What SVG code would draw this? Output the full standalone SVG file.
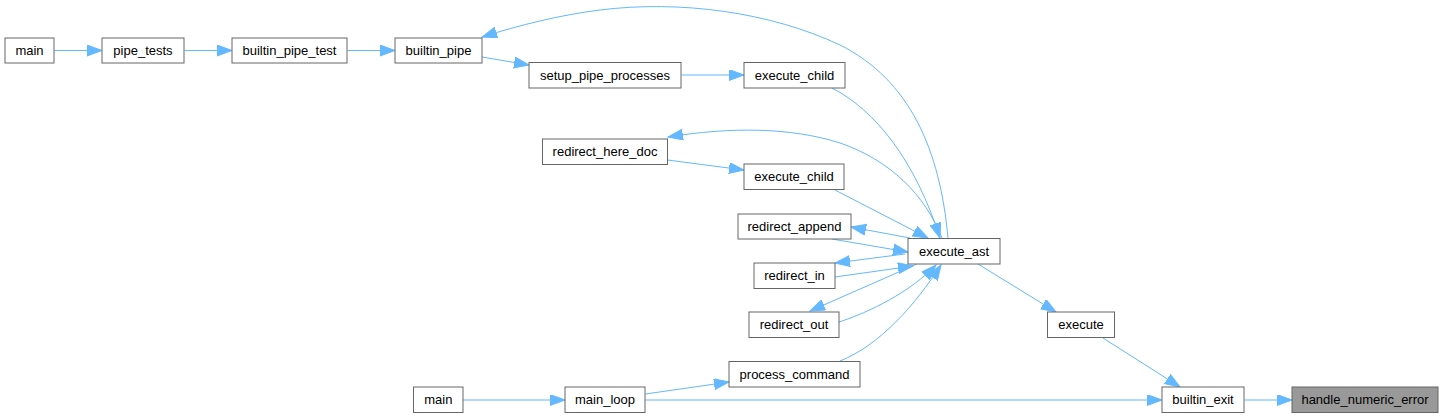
<svg xmlns="http://www.w3.org/2000/svg" width="1443" height="418" viewBox="0 0 1443 418">
<style>
.node rect{fill:#ffffff;stroke:#666666;stroke-width:1}
.node.hl rect{fill:#999999}
.node text{font-family:"Liberation Sans",Arial,sans-serif;font-size:13px;fill:#000000;text-anchor:middle}
.edges path{fill:none;stroke:#63b8ff;stroke-width:1;marker-end:url(#ah)}
</style>
<defs>
<marker id="ah" markerUnits="userSpaceOnUse" markerWidth="16" markerHeight="12" refX="15" refY="5.5" orient="auto" viewBox="0 0 16 12">
<path d="M0,0 L15,5.5 L0,11 Z" fill="#63b8ff" stroke="#63b8ff" stroke-width="1"/>
</marker>
</defs>
<rect width="1443" height="418" fill="#ffffff"/>
<g class="edges" id="edges">
<path d="M54.5,50.5 L102,50.5"/>
<path d="M184.5,50.5 L232,50.5"/>
<path d="M347.5,50.5 L395,50.5"/>
<path d="M482,57 L529,65"/>
<path d="M681.5,75 L744,75"/>
<path d="M948,238 C940,150 910,80 840,45 C770,12 680,0 600,10 C560,15 520,25 482,37"/>
<path d="M832,88 C875,110 915,160 940,238"/>
<path d="M942,238 C925,195 890,160 840,143 C790,127 730,127 668,137"/>
<path d="M667.5,160 L744,170"/>
<path d="M835,190 L928,238"/>
<path d="M910,238 L851,227"/>
<path d="M832,239 L908,252"/>
<path d="M905,254 L835,263"/>
<path d="M835,277 L913,266"/>
<path d="M917,264 L810,311"/>
<path d="M839,322 C870,312 910,292 936,265"/>
<path d="M840,361 C880,345 915,305 941,265"/>
<path d="M978,264 L1056,312"/>
<path d="M1103,338 L1180,387"/>
<path d="M1244.5,400 L1292,400"/>
<path d="M645.5,400 L1162,400"/>
<path d="M463,400 L565,400"/>
<path d="M645.5,394 L729,382"/>
</g>
<g class="node" id="n_main_top"><rect x="5" y="38" width="49" height="25"/><text x="29.5" y="55">main</text></g>
<g class="node" id="n_pipe_tests"><rect x="102" y="38" width="82" height="25"/><text x="143" y="55">pipe_tests</text></g>
<g class="node" id="n_builtin_pipe_test"><rect x="232" y="38" width="115" height="25"/><text x="289.5" y="55">builtin_pipe_test</text></g>
<g class="node" id="n_builtin_pipe"><rect x="395" y="38" width="87" height="25"/><text x="438.5" y="55">builtin_pipe</text></g>
<g class="node" id="n_setup_pipe_processes"><rect x="529" y="62.5" width="152" height="25.5"/><text x="605" y="79.5">setup_pipe_processes</text></g>
<g class="node" id="n_execute_child_1"><rect x="744" y="62.5" width="101" height="25.5"/><text x="794.5" y="79.5">execute_child</text></g>
<g class="node" id="n_redirect_here_doc"><rect x="542.5" y="139" width="125" height="25.5"/><text x="605" y="156">redirect_here_doc</text></g>
<g class="node" id="n_execute_child_2"><rect x="744" y="164" width="100" height="25.5"/><text x="794" y="181">execute_child</text></g>
<g class="node" id="n_redirect_append"><rect x="738" y="214" width="113" height="25"/><text x="794.5" y="231">redirect_append</text></g>
<g class="node" id="n_execute_ast"><rect x="908" y="238.5" width="92" height="25.5"/><text x="954" y="255.5">execute_ast</text></g>
<g class="node" id="n_redirect_in"><rect x="754" y="263" width="81" height="25.5"/><text x="794.5" y="280">redirect_in</text></g>
<g class="node" id="n_redirect_out"><rect x="749" y="312" width="90" height="25.5"/><text x="794" y="329">redirect_out</text></g>
<g class="node" id="n_process_command"><rect x="729" y="361.5" width="131" height="25.5"/><text x="794.5" y="378.5">process_command</text></g>
<g class="node" id="n_main_bottom"><rect x="413.5" y="387" width="49.5" height="25.5"/><text x="438.3" y="404">main</text></g>
<g class="node" id="n_main_loop"><rect x="565" y="387" width="80" height="25.5"/><text x="605" y="404">main_loop</text></g>
<g class="node" id="n_execute"><rect x="1047.5" y="312" width="67" height="25.5"/><text x="1081" y="329">execute</text></g>
<g class="node" id="n_builtin_exit"><rect x="1162" y="387" width="82" height="25.5"/><text x="1203" y="404">builtin_exit</text></g>
<g class="node hl" id="n_handle_numeric_error"><rect x="1292" y="387" width="146" height="25.5"/><text x="1365" y="404">handle_numeric_error</text></g>
</svg>
